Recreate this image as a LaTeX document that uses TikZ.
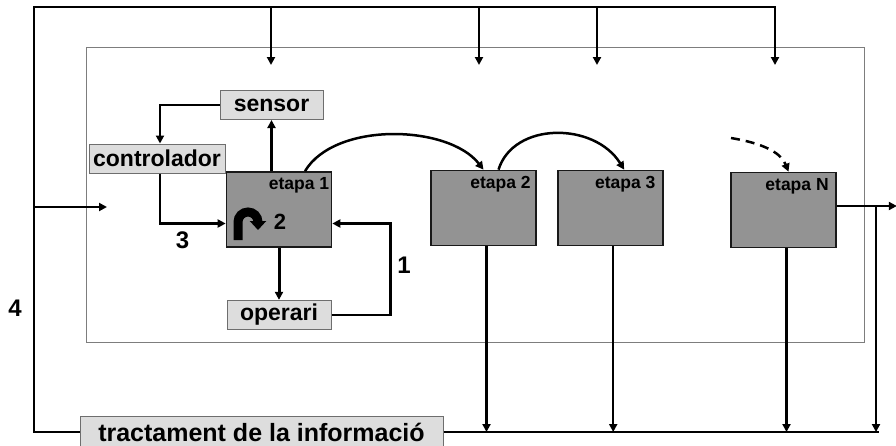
\documentclass[tikz,border=0pt]{standalone}
\usepackage{fontspec}
\setmainfont{Liberation Sans}
\usetikzlibrary{arrows.meta,positioning,calc}
\definecolor{stedge}{RGB}{25,25,25}
\definecolor{stfill}{RGB}{147,147,147}
\definecolor{auxfill}{RGB}{221,221,221}
\definecolor{auxedge}{RGB}{110,110,110}
\definecolor{frm}{RGB}{125,125,125}
\tikzset{
  stage/.style={
    draw=stedge, fill=stfill, line width=1.7pt,
    minimum width=105pt, minimum height=75pt, inner sep=0pt
  },
  stagelbl/.style={
    font=\fontsize{17.5}{19}\selectfont\bfseries,
    anchor=north east, inner xsep=6pt, inner ysep=6.5pt
  },
  aux/.style={
    draw=auxedge, fill=auxfill, line width=1pt,
    font=\fontsize{23}{25}\selectfont\bfseries,
    inner sep=0pt, minimum height=29pt
  },
  info/.style={
    minimum width=363pt, minimum height=32pt,
    font=\fontsize{25}{27}\selectfont\bfseries
  },
  num/.style={font=\fontsize{24}{26}\selectfont\bfseries, inner sep=0pt},
  arr/.style={-{Triangle[length=8pt,width=8pt]}, draw=black, line width=2.5pt},
  darr/.style={arr, dash pattern=on 9pt off 6pt},
  ln/.style={draw=black, line width=2.5pt},
  turn/.style={draw=black, line width=9pt, -{Triangle[length=9pt,width=16pt]}},
  inframe/.style={draw=frm, line width=1pt}
}
\begin{document}
\begin{tikzpicture}[x=1pt, y=-1pt, node distance=20pt]
  \clip (0,0) rectangle (896,445);
  \draw[inframe] (86,47) rectangle (864,342);
  \node[stage, label={[stagelbl, inner xsep=3pt]north east:etapa 1}] (e1) at (279,209.5) {};
  \node[stage, label={[stagelbl]north east:etapa 2}] (e2) at (483.5,208) {};
  \node[stage, right=of e2, label={[stagelbl, inner xsep=8pt]north east:etapa 3}] (e3) {};
  \node[stage, label={[stagelbl, inner xsep=8pt]north east:etapa N}] (eN) at (783.5,210) {};
  \node[aux, minimum width=103pt] (se) at (271.5,105) {sensor};
  \node[aux, minimum width=136pt] (co) at (157,158.5) {controlador};
  \node[aux, minimum width=104pt, below=52pt of e1] (op) {operari};
  \node[aux, info] (ti) at (261.5,432) {tractament de la informació};
  \node[num] (n1) at (404,265.5) {1};
  \node[num, font=\fontsize{22}{24}\selectfont\bfseries] (n2) at (280,221.5) {2};
  \node[num] (n3) at (182.5,240.5) {3};
  \node[num] (n4) at (15,308.5) {4};
  \coordinate (tl) at (34,7);
  \coordinate (tr) at (775,7);
  \coordinate (br) at (879,432);
  \coordinate (bj) at (876,206);
  \coordinate (dn) at (731,138);
  \draw[arr] (ti.west) -| (tl) -- (tr) -- ++(0,58);
  \foreach \x in {271,479,597}
    \draw[arr] (\x,7) -- ++(0,58);
  \draw[arr] (34,207) -- ++(73,0);
  \draw[arr] (e1.north -| se.south) -- (se.south);
  \draw[arr] (se.west) -| ([xshift=3pt]co.north);
  \draw[arr] ([xshift=3pt]co.south) |- ([yshift=-14pt]e1.west);
  \draw[arr, line width=3pt] (e1.south) -- (op.north);
  \draw[arr] (op.east) -- ++(59,0) |- ([yshift=-14pt]e1.east);
  \draw[turn] (238,240) -- (238,222) arc[start angle=180, end angle=0, radius=10pt] -- ++(0,8);
  \draw[arr] ([xshift=26pt]e1.north) .. controls +(30,-50) and +(-35,-45) .. (e2.north);
  \draw[arr] ([xshift=15pt]e2.north) .. controls +(15,-48) and +(-30,-48) .. ([xshift=14pt]e3.north);
  \draw[darr] (dn) .. controls +(30,5) and +(-8,-20) .. ([xshift=5pt]eN.north);
  \draw[arr] ([yshift=4pt]eN.east) -- ++(60,0);
  \draw[arr] (bj) -- (bj |- br);
  \draw[ln] (ti.east) -- (ti.east -| br);
  \foreach \n in {e2,e3,eN}
    \draw[arr] ([xshift=3pt]\n.south) -- ([xshift=3pt]\n.south |- br);
\end{tikzpicture}
\end{document}
